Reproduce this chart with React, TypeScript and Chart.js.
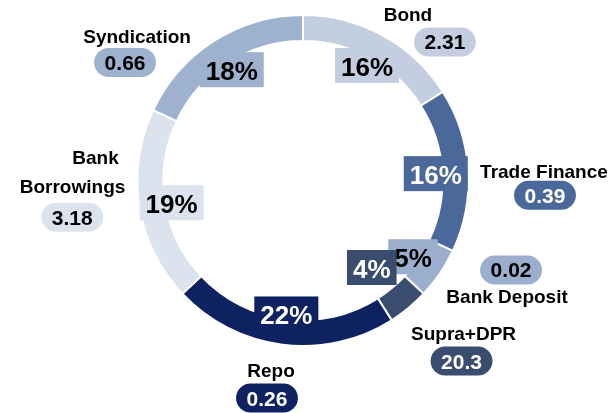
import React, { useEffect, useRef } from 'react';
import { Chart, registerables } from 'chart.js';

Chart.register(...registerables);

// ---- data ----
const categories = ['Bond', 'Trade Finance', 'Bank Deposit', 'Supra+DPR', 'Repo', 'Bank Borrowings', 'Syndication'];
const shares = [16, 16, 5, 4, 22, 19, 18];
const amounts = ['2.31', '0.39', '0.02', '20.3', '0.26', '3.18', '0.66'];
const nameLines = [['Bond'], ['Trade Finance'], ['Bank Deposit'], ['Supra+DPR'], ['Repo'], ['Bank', 'Borrowings'], ['Syndication']];

// ---- styles ----
const colors = ['#c3cee1', '#4a6899', '#9caecd', '#3a4d6f', '#0e2161', '#dce3ee', '#9eb1cf'];
const darkSegments = [false, true, false, true, true, false, false];

// ---- label layout (offsets from each arc's outer mid point) ----
const nameOffsets = [
  [[25.7, -15.7]],
  [[76.8, 8.1]],
  [[68, 30]],
  [[55.7, 32.8]],
  [[-11.4, 33]],
  [[-45, -41.9], [-68, -12.9]],
  [[-77.8, 1.3]],
];
const pillOffsets = [[62.7, 5.6], [77.8, 25.1], [72, -3], [53.7, 53.8], [-15.4, 54.3], [-68.3, 11.1], [-89.8, 20.8]];
const pctOffsets = [[0, 0], [0, 0], [0, 0], [-16, -17], [0, 0], [0, 0], [0, 0]];

const FONT = '"Liberation Sans", Arial, sans-serif';

function drawText(ctx: CanvasRenderingContext2D, text: string, cx: number, baseline: number, size: number, color: string, sx = 1) {
  ctx.save();
  ctx.font = `bold ${size}px ${FONT}`;
  ctx.fillStyle = color;
  ctx.textAlign = 'center';
  ctx.textBaseline = 'alphabetic';
  ctx.translate(cx, baseline);
  ctx.scale(sx, 1);
  ctx.fillText(text, 0, 0);
  ctx.restore();
}

function textWidth(ctx: CanvasRenderingContext2D, text: string, size: number) {
  ctx.save();
  ctx.font = `bold ${size}px ${FONT}`;
  const w = ctx.measureText(text).width;
  ctx.restore();
  return w;
}

const labelPlugin = {
  id: 'ringLabels',
  afterDatasetsDraw(chart: any) {
    const ctx: CanvasRenderingContext2D = chart.ctx;
    const meta = chart.getDatasetMeta(0);
    meta.data.forEach((arc: any, i: number) => {
      const { x, y, startAngle, endAngle, innerRadius, outerRadius } = arc.getProps(
        ['x', 'y', 'startAngle', 'endAngle', 'innerRadius', 'outerRadius'],
        true
      );
      const mid = (startAngle + endAngle) / 2;
      const textColor = darkSegments[i] ? '#ffffff' : '#000000';

      // percentage box
      const r = innerRadius - 6.5;
      const pcx = x + Math.cos(mid) * r + pctOffsets[i][0];
      const pcy = y + Math.sin(mid) * r + 3 + pctOffsets[i][1];
      const pctText = shares[i] + '%';
      const pSize = 25;
      const pw = textWidth(ctx, pctText, pSize) * 1.04 + 12;
      const ph = 35;
      ctx.save();
      ctx.fillStyle = colors[i];
      ctx.fillRect(pcx - pw / 2, pcy - 1.5 - ph / 2, pw, ph);
      ctx.restore();
      drawText(ctx, pctText, pcx, pcy + 0.358 * pSize, pSize, textColor, 1.04);

      // outer anchor
      const ax = x + Math.cos(mid) * (outerRadius - 1);
      const ay = y + Math.sin(mid) * (outerRadius - 1);

      // names
      nameLines[i].forEach((line, j) => {
        const [dx, dy] = nameOffsets[i][j];
        drawText(ctx, line, ax + dx, ay + dy, 19, '#000000');
      });

      // value pill
      const vSize = 21;
      const [vx, vy] = pillOffsets[i];
      const cx = ax + vx;
      const cy = ay + vy;
      const vw = textWidth(ctx, amounts[i], vSize) + 21;
      const vh = 29;
      ctx.save();
      ctx.fillStyle = colors[i];
      ctx.beginPath();
      ctx.roundRect(cx - vw / 2, cy - vh / 2, vw, vh, vh / 2);
      ctx.fill();
      ctx.restore();
      drawText(ctx, amounts[i], cx, cy + 0.358 * vSize, vSize, textColor);
    });
  },
};

export default function App() {
  const canvasRef = useRef<HTMLCanvasElement | null>(null);

  useEffect(() => {
    if (!canvasRef.current) return;
    const chart = new Chart(canvasRef.current, {
      type: 'doughnut',
      data: {
        labels: categories,
        datasets: [
          {
            data: shares,
            backgroundColor: colors,
            borderColor: '#ffffff',
            borderWidth: 2,
            radius: 165.5,
            cutout: '84.3%',
          } as any,
        ],
      },
      options: {
        responsive: false,
        animation: false,
        radius: 165.5,
        cutout: '84.3%',
        layout: { padding: { left: 0, top: 0, right: 5, bottom: 52 } },
        plugins: {
          legend: { display: false },
          tooltip: { enabled: false },
        },
      } as any,
      plugins: [labelPlugin],
    });
    return () => chart.destroy();
  }, []);

  return (
    <div style={{ position: 'fixed', left: 0, top: 0, width: 611, height: 413, background: '#ffffff' }}>
      <canvas ref={canvasRef} width={611} height={413} style={{ display: 'block', width: 611, height: 413 }} />
    </div>
  );
}
